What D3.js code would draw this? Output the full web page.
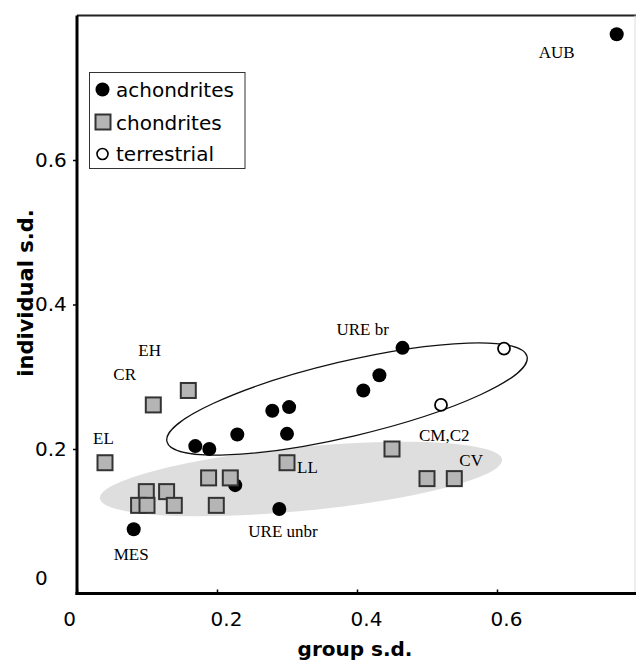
<!DOCTYPE html>
<html>
<head>
<meta charset="utf-8">
<script src="https://cdn.jsdelivr.net/npm/d3@7"></script>
<style>
body { margin: 0; background: #fff; }
svg { display: block; }
</style>
</head>
<body>
<svg id="chart"></svg>
<script>
// values: group s.d. (x) vs individual s.d. (y)
var achondrites = [
  {name: "AUB", gsd: 0.771, isd: 0.774},
  {name: "URE br", gsd: 0.465, isd: 0.340},
  {name: "", gsd: 0.432, isd: 0.302},
  {name: "", gsd: 0.409, isd: 0.281},
  {name: "", gsd: 0.303, isd: 0.258},
  {name: "", gsd: 0.279, isd: 0.253},
  {name: "", gsd: 0.300, isd: 0.221},
  {name: "", gsd: 0.229, isd: 0.220},
  {name: "", gsd: 0.189, isd: 0.200},
  {name: "", gsd: 0.169, isd: 0.204},
  {name: "", gsd: 0.226, isd: 0.150},
  {name: "URE unbr", gsd: 0.289, isd: 0.117},
  {name: "MES", gsd: 0.081, isd: 0.089}
];

var chondrites = [
  {name: "EL", gsd: 0.040, isd: 0.181},
  {name: "CR", gsd: 0.109, isd: 0.261},
  {name: "EH", gsd: 0.159, isd: 0.281},
  {name: "", gsd: 0.099, isd: 0.141},
  {name: "", gsd: 0.128, isd: 0.141},
  {name: "", gsd: 0.088, isd: 0.122},
  {name: "", gsd: 0.100, isd: 0.122},
  {name: "", gsd: 0.139, isd: 0.122},
  {name: "", gsd: 0.188, isd: 0.160},
  {name: "", gsd: 0.219, isd: 0.160},
  {name: "", gsd: 0.199, isd: 0.122},
  {name: "LL", gsd: 0.300, isd: 0.181},
  {name: "CM,C2", gsd: 0.450, isd: 0.200},
  {name: "", gsd: 0.500, isd: 0.159},
  {name: "CV", gsd: 0.539, isd: 0.159}
];

var terrestrial = [
  {name: "", gsd: 0.610, isd: 0.339},
  {name: "", gsd: 0.520, isd: 0.261}
];

var xTicks = [0, 0.2, 0.4, 0.6];
var yTicks = [0, 0.2, 0.4, 0.6];
var tickLabels = ["0", "0.2", "0.4", "0.6"];
var legendNames = ["achondrites", "chondrites", "terrestrial"];

// group outlines (centre in data units, semi-axes in x units, angle in degrees)
var groupEllipses = [
  {cx: 0.320, cy: 0.1585, rx: 0.2886, ry: 0.0457, angle: -5.5, kind: "filled"},
  {cx: 0.3857, cy: 0.2692, rx: 0.2643, ry: 0.0536, angle: -13.3, kind: "outline"}
];

// where each point label sits relative to its marker (px)
var labelOffset = {
  "AUB": [-78, 24], "URE br": [-66, -13], "URE unbr": [-31, 28], "MES": [-20, 31],
  "EL": [-12, -19], "CR": [-40, -25], "EH": [-50, -34], "LL": [10, 10],
  "CM,C2": [27, -8], "CV": [5, -13]
};

var W = 636, H = 661;
var svg = d3.select("#chart").attr("width", W).attr("height", H);

var x = d3.scaleLinear().domain([0, 0.8]).range([77, 637]);
var y = d3.scaleLinear().domain([0, 0.8]).range([593.5, 15.5]);

var sans = "'DejaVu Sans', Verdana, sans-serif";
var serif = "'Liberation Serif', 'Times New Roman', serif";

// ellipses
svg.selectAll(".grp")
  .data(groupEllipses)
  .enter().append("ellipse")
  .attr("class", "grp")
  .attr("transform", function(d) { return "translate(" + x(d.cx) + "," + y(d.cy) + ") rotate(" + d.angle + ")"; })
  .attr("rx", function(d) { return x(d.rx) - x(0); })
  .attr("ry", function(d) { return x(d.ry) - x(0); })
  .attr("fill", function(d) { return d.kind == "filled" ? "#dedede" : "none"; })
  .attr("stroke", function(d) { return d.kind == "filled" ? "none" : "#111"; })
  .attr("stroke-width", 1.3);

// frame: top and right
svg.append("line").attr("x1", x(0)).attr("x2", W).attr("y1", y(0.8)).attr("y2", y(0.8))
  .attr("stroke", "#222").attr("stroke-width", 2);
svg.append("line").attr("x1", 635).attr("x2", 635).attr("y1", y(0.8)).attr("y2", y(0))
  .attr("stroke", "#ddd").attr("stroke-width", 1);

// axes
var xAxis = d3.axisBottom(x).tickValues(xTicks)
  .tickFormat(function(d, i) { return tickLabels[i]; })
  .tickSize(-4).tickSizeOuter(0).tickPadding(18);
var yAxis = d3.axisLeft(y).tickValues(yTicks)
  .tickFormat(function(d, i) { return tickLabels[i]; })
  .tickSize(4).tickSizeOuter(0).tickPadding(5);

var gx = svg.append("g").attr("transform", "translate(0," + y(0) + ")").call(xAxis);
var gy = svg.append("g").attr("transform", "translate(" + x(0) + ",0)").call(yAxis);

[gx, gy].forEach(function(g) {
  g.select(".domain").attr("stroke", "#000").attr("stroke-width", 3);
  g.selectAll(".tick line").attr("stroke", "#000").attr("stroke-width", 1.5);
  g.selectAll(".tick text").attr("font-family", sans).attr("font-size", 20).attr("fill", "#000");
});
gx.select(".domain").attr("d", "M" + (x(0) - 1.5) + ",0H" + W);
gy.select(".domain").attr("d", "M0," + y(0.8) + "V" + (y(0) + 1.5));
gx.selectAll(".tick text").attr("dx", function(d) { return d == 0 ? -8 : 9; });
gy.selectAll(".tick text").attr("text-anchor", "start").attr("x", -42)
  .attr("dy", function(d) { return d == 0 ? "-0.45em" : "0.32em"; });
gy.selectAll(".tick").filter(function(d) { return d == 0; }).select("line").remove();

// axis titles
svg.append("text").attr("x", 355).attr("y", 656).attr("text-anchor", "middle")
  .attr("font-family", sans).attr("font-weight", "bold").attr("font-size", 20)
  .text("group s.d.");
svg.append("text").attr("transform", "translate(33,293) rotate(-90)").attr("text-anchor", "middle")
  .attr("font-family", sans).attr("font-weight", "bold").attr("font-size", 21)
  .text("individual s.d.");

// markers
svg.selectAll(".ach").data(achondrites).enter().append("circle")
  .attr("class", "ach")
  .attr("cx", function(d) { return x(d.gsd); })
  .attr("cy", function(d) { return y(d.isd); })
  .attr("r", 7).attr("fill", "#000");

svg.selectAll(".ter").data(terrestrial).enter().append("circle")
  .attr("class", "ter")
  .attr("cx", function(d) { return x(d.gsd); })
  .attr("cy", function(d) { return y(d.isd); })
  .attr("r", 6).attr("fill", "#fff").attr("stroke", "#000").attr("stroke-width", 1.8);

var sq = 15;
svg.selectAll(".cho").data(chondrites).enter().append("rect")
  .attr("class", "cho")
  .attr("x", function(d) { return x(d.gsd) - sq / 2; })
  .attr("y", function(d) { return y(d.isd) - sq / 2; })
  .attr("width", sq).attr("height", sq)
  .attr("fill", "#b5b5b5").attr("stroke", "#333").attr("stroke-width", 2);

// point labels
var named = achondrites.concat(chondrites).filter(function(d) { return d.name != ""; });
svg.selectAll(".lbl").data(named).enter().append("text")
  .attr("class", "lbl")
  .attr("x", function(d) { return x(d.gsd) + labelOffset[d.name][0]; })
  .attr("y", function(d) { return y(d.isd) + labelOffset[d.name][1]; })
  .attr("font-family", serif).attr("font-size", 17).attr("fill", "#000")
  .text(function(d) { return d.name; });

// legend
var lg = svg.append("g").attr("transform", "translate(89.5,72.5)");
lg.append("rect").attr("width", 155.5).attr("height", 96)
  .attr("fill", "#fff").attr("stroke", "#333").attr("stroke-width", 1);
var rowY = [17, 50, 81.5];
lg.append("circle").attr("cx", 13).attr("cy", rowY[0]).attr("r", 7).attr("fill", "#000");
lg.append("rect").attr("x", 6).attr("y", rowY[1] - 8).attr("width", 15).attr("height", 15)
  .attr("fill", "#b5b5b5").attr("stroke", "#333").attr("stroke-width", 2);
lg.append("circle").attr("cx", 13).attr("cy", rowY[2]).attr("r", 5.5)
  .attr("fill", "#fff").attr("stroke", "#000").attr("stroke-width", 1.6);
lg.selectAll(".lt").data(legendNames).enter().append("text")
  .attr("class", "lt")
  .attr("x", 26.5)
  .attr("y", function(d, i) { return rowY[i]; })
  .attr("dy", "0.35em")
  .attr("font-family", sans).attr("font-size", 20).attr("fill", "#000")
  .text(function(d) { return d; });
</script>
</body>
</html>
